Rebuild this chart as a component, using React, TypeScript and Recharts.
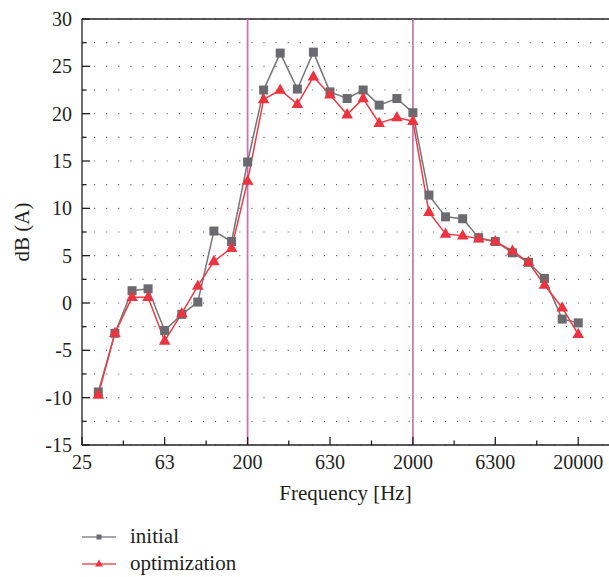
import React from "react";
import { CartesianGrid, Legend, Line, LineChart, ReferenceLine, XAxis, YAxis } from "recharts";

const FONT = '"Liberation Serif", "DejaVu Serif", serif';
const TEXT = "#231f20";

// 1/3 octave band centre frequencies (Hz)
const freqs = [
  25, 31.5, 40, 50, 63, 80, 100, 125, 160, 200, 250, 315, 400, 500, 630, 800, 1000, 1250, 1600, 2000,
  2500, 3150, 4000, 5000, 6300, 8000, 10000, 12500, 16000, 20000,
];
const initial = [
  -9.4, -3.2, 1.3, 1.5, -2.9, -1.2, 0.1, 7.6, 6.5, 14.9, 22.5, 26.4, 22.6, 26.5, 22.3, 21.6, 22.5, 20.9, 21.6, 20.1,
  11.4, 9.1, 8.9, 6.9, 6.5, 5.3, 4.3, 2.6, -1.7, -2.1,
];
const optimization = [
  -9.7, -3.2, 0.6, 0.6, -4.0, -1.1, 1.8, 4.4, 5.8, 12.9, 21.5, 22.5, 21.0, 23.9, 22.0, 19.9, 21.6, 19.0, 19.6, 19.2,
  9.6, 7.3, 7.1, 6.8, 6.5, 5.5, 4.3, 1.9, -0.5, -3.3,
];

// x axis: major ticks every half decade, first one sits on the left edge but reads "25"
const xMajor = [19.92, 63, 200, 630, 2000, 6300, 20000];
const xLabels = ["25", "63", "200", "630", "2000", "6300", "20000"];
const xMinor = xMajor.slice(1).map((v, i) => Math.sqrt(v * xMajor[i]));
const xTicks = [...xMajor, ...xMinor].sort((a, b) => a - b);
const xDomain = [19.92, 30700];

const yTicks = [-15, -12.5, -10, -7.5, -5, -2.5, 0, 2.5, 5, 7.5, 10, 12.5, 15, 17.5, 20, 22.5, 25, 27.5, 30];
const bandLines = [200, 2000];

const rows = freqs.map((f, i) => ({ freq: f, initial: initial[i], optimization: optimization[i] }));

const GRAY_LINE = "#75757a";
const GRAY_MARK = "#6a6a6f";
const RED_LINE = "#ee3a45";
const RED_MARK = "#ec3440";

const XTick = (props: any) => {
  const { x, y, payload } = props;
  const idx = xMajor.findIndex((v) => Math.abs(v - payload.value) < 0.01);
  const major = idx >= 0;
  return (
    <g>
      <line x1={x} x2={x} y1={y} y2={y - (major ? 8 : 4.5)} stroke={TEXT} strokeWidth={1.3} />
      {major && (
        <text x={x} y={y + 17} dy="0.35em" textAnchor="middle" fill={TEXT} fontFamily={FONT} fontSize={20}>
          {xLabels[idx]}
        </text>
      )}
    </g>
  );
};

const YTick = (props: any) => {
  const { x, y, payload } = props;
  const major = payload.value % 5 === 0;
  return (
    <g>
      <line x1={x} x2={x + (major ? 8 : 4.5)} y1={y} y2={y} stroke={TEXT} strokeWidth={1.3} />
      {major && (
        <text x={x - 10} y={y} dy="0.35em" textAnchor="end" fill={TEXT} fontFamily={FONT} fontSize={20}>
          {payload.value}
        </text>
      )}
    </g>
  );
};

const Square = (props: any) => {
  const { cx, cy, index } = props;
  return <rect key={`s${index}`} x={cx - 4.5} y={cy - 4.5} width={9} height={9} fill={GRAY_MARK} />;
};

const Triangle = (props: any) => {
  const { cx, cy, index } = props;
  return (
    <polygon
      key={`t${index}`}
      points={`${cx},${cy - 6.5} ${cx + 5.8},${cy + 3.8} ${cx - 5.8},${cy + 3.8}`}
      fill={RED_MARK}
    />
  );
};

const legendItems = [
  { name: "initial", line: "#8a8a8e", kind: "square" },
  { name: "optimization", line: "#f0505a", kind: "triangle" },
];

const LegendBox = () => (
  <div style={{ height: 56, paddingTop: 2, boxSizing: "border-box", fontFamily: FONT, fontSize: 21, color: TEXT }}>
    {legendItems.map((it) => (
      <div key={it.name} style={{ display: "flex", alignItems: "center", height: 27 }}>
        <svg width={34} height={14} style={{ display: "block" }}>
          <line x1={0} x2={34} y1={7} y2={7} stroke={it.line} strokeWidth={1.6} />
          {it.kind === "square" ? (
            <rect x={14.5} y={4.5} width={5} height={5} fill={GRAY_MARK} />
          ) : (
            <polygon points="17,2.5 21,9.5 13,9.5" fill={RED_MARK} />
          )}
        </svg>
        <span style={{ marginLeft: 14, lineHeight: "27px" }}>{it.name}</span>
      </div>
    ))}
  </div>
);

export default function App() {
  return (
    <div style={{ position: "absolute", left: 8, top: 8 }}>
      <LineChart width={601} height={569} data={rows} margin={{ top: 11, right: 0, left: 0, bottom: 0 }}>
        <CartesianGrid vertical={false} stroke="#555" strokeWidth={1.2} strokeDasharray="1 11.1" />
        <XAxis
          dataKey="freq"
          type="number"
          scale="log"
          domain={xDomain}
          allowDataOverflow
          ticks={xTicks}
          interval={0}
          tickSize={0}
          tickMargin={0}
          tick={XTick}
          height={76}
          axisLine={{ stroke: TEXT, strokeWidth: 1.3 }}
          label={({ viewBox }: any) => (
            <text
              x={viewBox.x + viewBox.width / 2}
              y={viewBox.y + 48}
              dy="0.35em"
              textAnchor="middle"
              fill={TEXT}
              fontFamily={FONT}
              fontSize={21}
            >
              Frequency [Hz]
            </text>
          )}
        />
        <YAxis
          type="number"
          domain={[-15, 30]}
          ticks={yTicks}
          interval={0}
          tickSize={0}
          tickMargin={0}
          tick={YTick}
          width={74}
          axisLine={{ stroke: TEXT, strokeWidth: 1.3 }}
          label={({ viewBox }: any) => {
            const cx = viewBox.x + 14;
            const cy = viewBox.y + viewBox.height / 2;
            return (
              <text
                x={cx}
                y={cy}
                dy="0.35em"
                textAnchor="middle"
                transform={`rotate(-90, ${cx}, ${cy})`}
                fill={TEXT}
                fontFamily={FONT}
                fontSize={21}
              >
                dB (A)
              </text>
            );
          }}
        />
        <ReferenceLine y={30} stroke={TEXT} strokeWidth={1.3} />
        {bandLines.map((f) => (
          <ReferenceLine key={f} x={f} stroke="#c472b4" strokeWidth={1.7} />
        ))}
        <Legend
          verticalAlign="bottom"
          align="left"
          content={<LegendBox />}
          wrapperStyle={{ left: 74, width: 300 }}
        />
        <Line
          dataKey="initial"
          type="linear"
          stroke={GRAY_LINE}
          strokeWidth={1.5}
          dot={Square}
          activeDot={false}
          isAnimationActive={false}
        />
        <Line
          dataKey="optimization"
          type="linear"
          stroke={RED_LINE}
          strokeWidth={1.5}
          dot={Triangle}
          activeDot={false}
          isAnimationActive={false}
        />
      </LineChart>
    </div>
  );
}
